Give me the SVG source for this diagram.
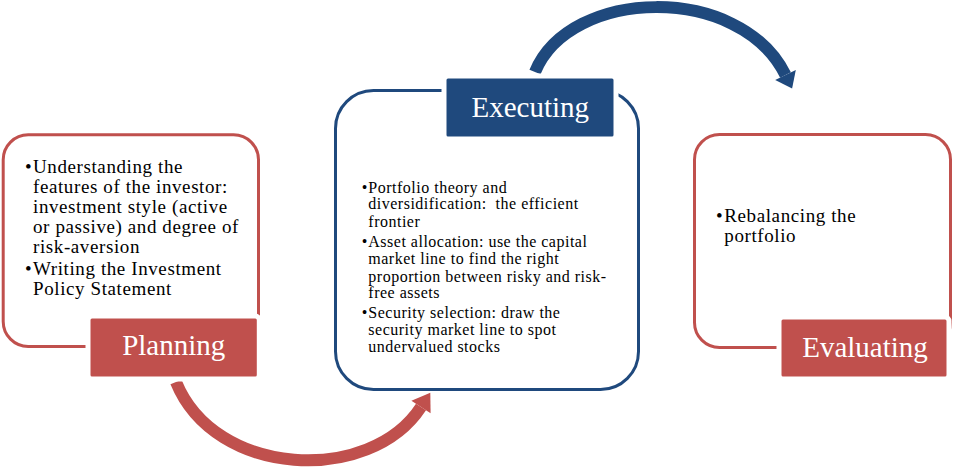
<svg xmlns="http://www.w3.org/2000/svg" width="980" height="468" viewBox="0 0 980 468">
  <style>
    .frame-red { fill: #ffffff; stroke: #c0504d; stroke-width: 3; }
    .frame-blue { fill: #ffffff; stroke: #1f497d; stroke-width: 3; }
    .label-red { fill: #c0504d; stroke: #ffffff; stroke-width: 5; }
    .label-blue { fill: #1f497d; stroke: #ffffff; stroke-width: 5; }
    .title { font-family: "Liberation Serif", "Times New Roman", serif; font-size: 29px; fill: #ffffff; text-anchor: middle; }
    .body { font-family: "Liberation Serif", "Times New Roman", serif; font-size: 19px; fill: #000000; letter-spacing: 0.6px; }
    .body-sm { font-family: "Liberation Serif", "Times New Roman", serif; font-size: 16px; fill: #000000; letter-spacing: 0.5px; }
    .arc-red { fill: none; stroke: #c0504d; stroke-width: 12; }
    .arc-blue { fill: none; stroke: #1f497d; stroke-width: 12; }
  </style>
  <rect x="0" y="0" width="980" height="468" fill="#ffffff"/>

  <g id="connectors">
    <g id="arrow-planning-executing">
      <path class="arc-red" d="M176,382 C215,478 370,485 421,407"/>
      <polygon fill="#c0504d" points="430.6,413.3 411.4,400.7 430.3,392.8"/>
    </g>
    <g id="arrow-executing-evaluating">
      <path class="arc-blue" d="M535,72 C570,-13 740,-17 785.5,75"/>
      <polygon fill="#1f497d" points="795.8,69.9 775.2,80.1 792.1,88.4"/>
    </g>
  </g>

  <g id="node-planning">
    <rect class="frame-red" x="3.2" y="134.8" width="255.3" height="211.7" rx="25" ry="25"/>
    <text class="body">
      <tspan x="25" y="172.7">•</tspan><tspan x="33" y="172.7">Understanding the</tspan>
      <tspan x="33" y="192.7">features of the investor:</tspan>
      <tspan x="33" y="212.7">investment style (active</tspan>
      <tspan x="33" y="232.7">or passive) and degree of</tspan>
      <tspan x="33" y="252.7">risk-aversion</tspan>
      <tspan x="25" y="275">•</tspan><tspan x="33" y="275">Writing the Investment</tspan>
      <tspan x="33" y="295">Policy Statement</tspan>
    </text>
    <rect class="label-red" x="88" y="316" width="171.3" height="63" rx="4" ry="4"/>
    <text class="title" x="173.7" y="355">Planning</text>
  </g>

  <g id="node-executing">
    <rect class="frame-blue" x="335.5" y="90.5" width="303" height="299" rx="38" ry="38"/>
    <text class="body-sm">
      <tspan x="361.7" y="192.7">•</tspan><tspan x="368.3" y="192.7">Portfolio theory and</tspan>
      <tspan x="368.3" y="209.3">diversidification:&#160; the efficient</tspan>
      <tspan x="368.3" y="226.7">frontier</tspan>
      <tspan x="361.7" y="246.7">•</tspan><tspan x="368.3" y="246.7">Asset allocation: use the capital</tspan>
      <tspan x="368.3" y="264">market line to find the right</tspan>
      <tspan x="368.3" y="281.7">proportion between risky and risk-</tspan>
      <tspan x="368.3" y="298.3">free assets</tspan>
      <tspan x="361.7" y="318.3">•</tspan><tspan x="368.3" y="318.3">Security selection: draw the</tspan>
      <tspan x="368.3" y="335">security market line to spot</tspan>
      <tspan x="368.3" y="351.7">undervalued stocks</tspan>
    </text>
    <rect class="label-blue" x="444" y="76" width="172" height="63" rx="4" ry="4"/>
    <text class="title" x="530.3" y="116.7">Executing</text>
  </g>

  <g id="node-evaluating">
    <rect class="frame-red" x="694.5" y="134.5" width="256" height="213" rx="25" ry="25"/>
    <text class="body">
      <tspan x="716" y="221.7">•</tspan><tspan x="724.3" y="221.7">Rebalancing the</tspan>
      <tspan x="724.3" y="241.7">portfolio</tspan>
    </text>
    <rect class="label-red" x="779" y="317" width="170" height="62" rx="4" ry="4"/>
    <text class="title" x="865" y="356.7">Evaluating</text>
  </g>
</svg>
